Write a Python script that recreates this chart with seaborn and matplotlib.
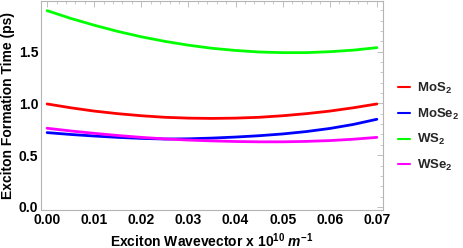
import matplotlib
matplotlib.use("Agg")
import matplotlib.pyplot as plt
import seaborn as sns
import pandas as pd
import numpy as np
from matplotlib.ticker import MultipleLocator
from matplotlib.lines import Line2D

# ---- data ----
wavevector = [0.000, 0.005, 0.010, 0.015, 0.020, 0.025, 0.030, 0.035,
              0.040, 0.045, 0.050, 0.055, 0.060, 0.065, 0.070]
mos2 = [0.995, 0.958, 0.926, 0.901, 0.881, 0.866, 0.858, 0.855,
        0.858, 0.866, 0.881, 0.901, 0.926, 0.958, 0.995]
mose2 = [0.718, 0.700, 0.685, 0.672, 0.662, 0.656, 0.658, 0.665,
         0.675, 0.688, 0.705, 0.728, 0.758, 0.797, 0.847]
ws2 = [1.897, 1.822, 1.756, 1.696, 1.644, 1.600, 1.563, 1.533,
       1.512, 1.497, 1.491, 1.491, 1.500, 1.515, 1.539]
wse2 = [0.760, 0.734, 0.711, 0.690, 0.672, 0.657, 0.646, 0.638,
        0.632, 0.629, 0.629, 0.633, 0.641, 0.654, 0.672]
materials = ["MoS$_\\mathbf{2}$", "MoSe$_\\mathbf{2}$", "WS$_\\mathbf{2}$", "WSe$_\\mathbf{2}$"]
colors = ["#FF0000", "#0000FF", "#00FF00", "#FF00FF"]

x_ticks = [0.00, 0.01, 0.02, 0.03, 0.04, 0.05, 0.06, 0.07]
y_ticks = [0.0, 0.5, 1.0, 1.5]

frames = []
for name, vals in zip(materials, [mos2, mose2, ws2, wse2]):
    frames.append(pd.DataFrame({"k": wavevector, "t": vals, "mat": name}))
df = pd.concat(frames, ignore_index=True)

sns.set_theme(style="white")
plt.rcParams["font.family"] = ["Liberation Sans", "DejaVu Sans"]
plt.rcParams["mathtext.fontset"] = "custom"
plt.rcParams["mathtext.rm"] = "Liberation Sans:bold"
plt.rcParams["mathtext.bf"] = "Liberation Sans:bold"
plt.rcParams["mathtext.it"] = "Liberation Sans:italic:bold"

FS = 10

fig = plt.figure(figsize=(4.63, 2.48), dpi=100)
ax = fig.add_axes([41 / 463, 1 - 210 / 248, (383 - 41) / 463, 209 / 248])

sns.lineplot(data=df, x="k", y="t", hue="mat", palette=colors,
             hue_order=materials, linewidth=2.0, ax=ax, legend=False,
             sort=True)

ax.set_xlim(-0.0013, 0.0713)
ax.set_ylim(-0.03, 1.99)
ax.xaxis.set_minor_locator(MultipleLocator(0.002))
ax.yaxis.set_minor_locator(MultipleLocator(0.1))
ax.set_xticks(x_ticks)
ax.set_xticklabels([f"{v:.2f}" for v in x_ticks])
ax.set_yticks(y_ticks)
ax.set_yticklabels([f"{v:.1f}" for v in y_ticks])

frame_col = "#B4B4B4"
for s in ax.spines.values():
    s.set_color(frame_col)
    s.set_linewidth(0.8)
ax.tick_params(which="both", direction="in", top=True, right=True,
               color=frame_col, labelsize=FS, pad=2)
ax.tick_params(which="major", length=4, width=0.6)
ax.tick_params(which="minor", length=2, width=0.5)
for lab in ax.get_xticklabels() + ax.get_yticklabels():
    lab.set_fontweight("bold")
    lab.set_color("black")

ax.set_xlabel("Exciton Wavevector x 10$^{\\mathbf{10}}$ $\\mathit{m}^{\\mathbf{-1}}$",
              fontsize=FS, fontweight="bold", labelpad=3, color="black")
ax.set_ylabel("Exciton Formation Time (ps)", fontsize=FS, fontweight="bold",
              labelpad=3, color="black")

handles = [Line2D([], [], color=c, lw=1.5) for c in colors]
leg = fig.legend(handles, materials, loc="center left",
                 bbox_to_anchor=(389 / 463, 1 - 127 / 248), frameon=False,
                 prop={"size": 9.5, "weight": "bold"}, handlelength=0.9,
                 handletextpad=0.55, labelspacing=0.8, borderpad=0.2)

fig.savefig("out.png", dpi=100)
